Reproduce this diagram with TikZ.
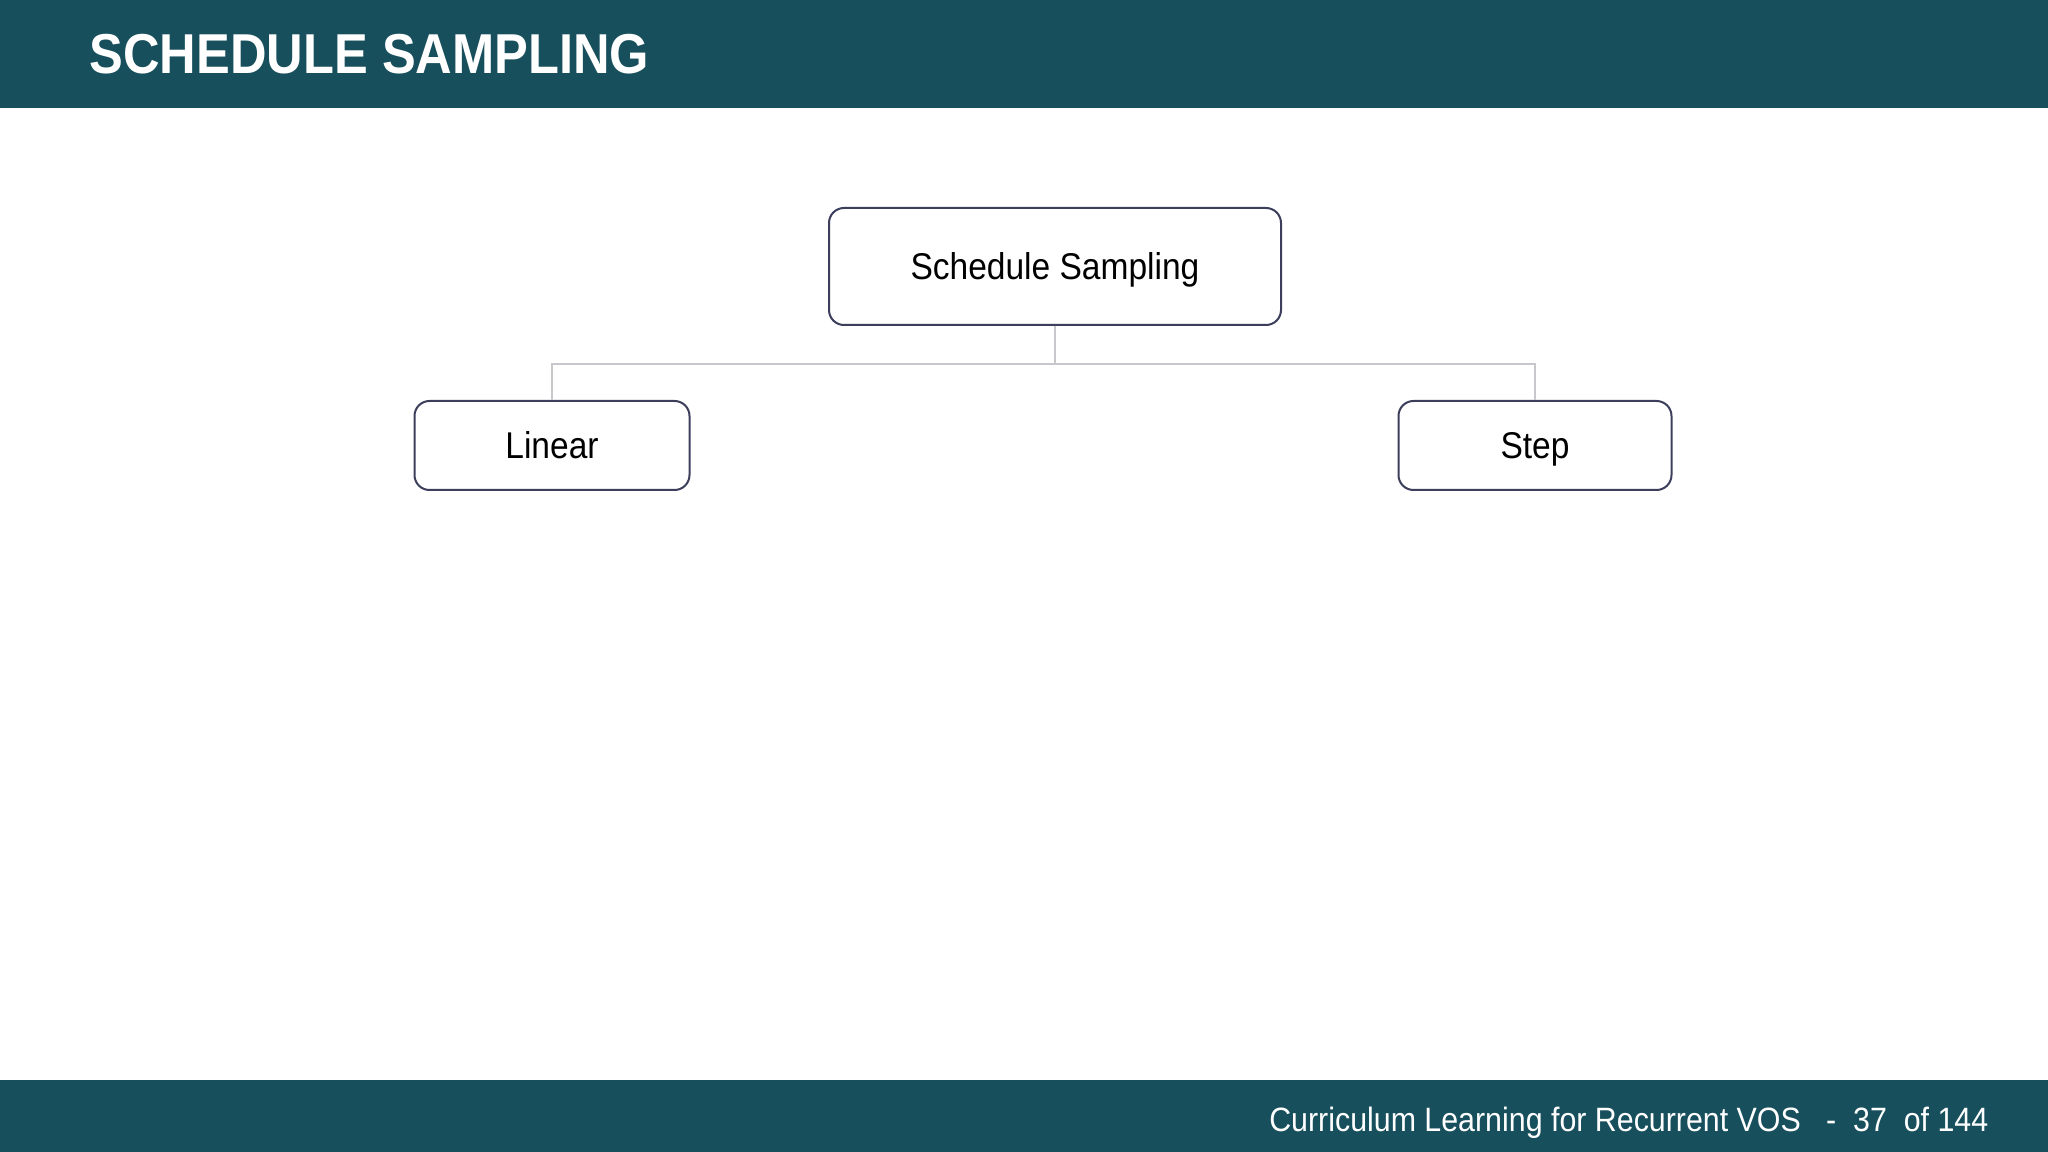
\documentclass[tikz,border=0pt]{standalone}
\usepackage{fontspec}
\setmainfont{Liberation Sans}[FakeStretch=0.9]
\usepackage{tikz}
\usetikzlibrary{positioning}
\definecolor{barteal}{RGB}{23,79,92}
\definecolor{boxline}{RGB}{60,63,92}
\definecolor{linkgray}{RGB}{200,200,204}
\tikzset{
  topic/.style={rectangle, rounded corners=0.15cm, draw=boxline, line width=0.02cm, fill=white, text=black, font=\fontsize{10.6}{12}\selectfont, align=center, text height=0.72em, text depth=0pt},
  link/.style={draw=linkgray, line width=0.02cm}
}

\begin{document}
\begin{tikzpicture}[node distance=1.79cm]
    \useasboundingbox (0,0) rectangle (20.48,-11.52);
    % header and footer bars
    \fill[barteal] (0,0) rectangle (20.48,-1.08);
    \fill[barteal] (0,-10.80) rectangle (20.48,-11.52);
    \node (title) [anchor=base west, inner sep=0, text=white, font=\fontsize{16}{19}\bfseries\selectfont] at (0.89,-0.74) {SCHEDULE SAMPLING};
    \node (foot) [anchor=base east, inner sep=0, text=white, font=\fontsize{9.6}{11}\selectfont] at (19.89,-11.31) {Curriculum Learning for Recurrent VOS \ \ - \ 37 \ of 144};
    % tree
    \node (ss) [topic, minimum width=4.52cm, minimum height=1.17cm] at (10.55,-2.665) {Schedule Sampling};
    \node (lin) [topic, minimum width=2.75cm, minimum height=0.89cm, below of=ss, xshift=-5.03cm] {Linear};
    \node (stp) [topic, minimum width=2.73cm, minimum height=0.89cm, below of=ss, xshift=4.80cm] {Step};
    \draw [link] (ss.south) -- ++(0,-0.38) -| (lin.north);
    \draw [link] (ss.south) -- ++(0,-0.38) -| (stp.north);
\end{tikzpicture}
\end{document}
